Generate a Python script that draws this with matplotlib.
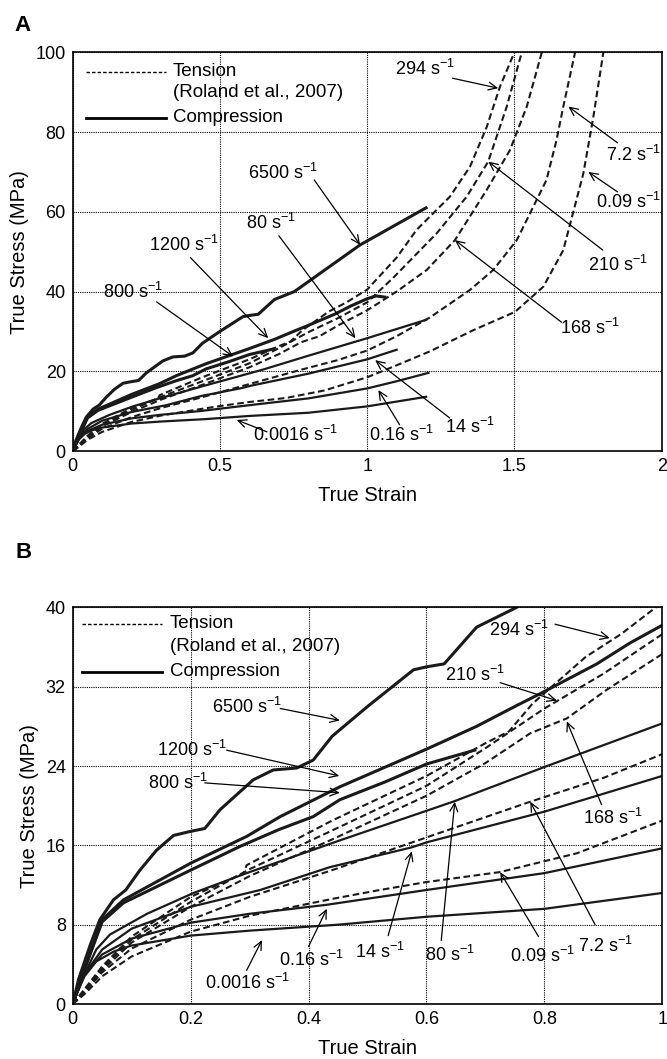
import matplotlib.pyplot as plt

plt.rcParams['font.family'] = ['Liberation Sans', 'DejaVu Sans']
plt.rcParams['mathtext.fontset'] = 'custom'
plt.rcParams['mathtext.rm'] = 'Liberation Sans'
plt.rcParams['mathtext.it'] = 'Liberation Sans:italic'

# Compression curves (true strain, true stress in MPa)
comp_0016_x = [0, 0.01, 0.02, 0.04, 0.07, 0.1, 0.2, 0.3, 0.45, 0.6, 0.8, 1.0, 1.2]
comp_0016_y = [0, 1.5, 2.8, 4.3, 5.3, 5.9, 6.9, 7.4, 8.0, 8.8, 9.6, 11.2, 13.6]
comp_016_x = [0, 0.02, 0.05, 0.1, 0.2, 0.3, 0.43, 0.6, 0.8, 1.0, 1.1, 1.208]
comp_016_y = [0, 3.0, 5.0, 6.6, 8.2, 9.1, 10.0, 11.5, 13.2, 15.7, 17.5, 19.6]
comp_14_x = [0, 0.02, 0.05, 0.1, 0.2, 0.318, 0.436, 0.575, 0.6, 0.8, 1.0, 1.1]
comp_14_y = [0, 3.0, 5.5, 7.6, 9.8, 11.5, 13.8, 15.8, 16.3, 19.4, 23.0, 25.4]
comp_80_x = [0, 0.02, 0.04, 0.063, 0.126, 0.205, 0.295, 0.453, 0.645, 0.8, 1.0, 1.2]
comp_80_y = [0, 3.0, 5.5, 7.0, 9.1, 11.2, 13.2, 16.5, 20.4, 23.9, 28.3, 32.9]
comp_800_x = [0, 0.02, 0.05, 0.086, 0.2, 0.284, 0.35, 0.408, 0.453, 0.53, 0.6, 0.682]
comp_800_y = [0, 3.5, 8.3, 10.2, 13.5, 15.9, 17.6, 18.9, 20.6, 22.4, 24.2, 25.6]
comp_1200_x = [0, 0.02, 0.05, 0.086, 0.2, 0.295, 0.352, 0.453, 0.6, 0.685, 0.753, 0.793,
               0.889, 0.945, 1.0, 1.03, 1.06]
comp_1200_y = [0, 3.5, 8.5, 10.5, 14.2, 16.9, 18.9, 21.9, 25.7, 28.0, 30.1, 31.3,
               34.3, 36.4, 38.2, 38.9, 38.6]
comp_6500_x = [0, 0.01, 0.03, 0.046, 0.069, 0.09, 0.114, 0.142, 0.171, 0.199, 0.224, 0.25,
               0.306, 0.34, 0.38, 0.408, 0.44, 0.5, 0.578, 0.6, 0.63, 0.685, 0.753, 0.976, 1.2]
comp_6500_y = [0, 2.5, 6.0, 8.5, 10.5, 11.5, 13.5, 15.5, 17.0, 17.4, 17.7, 19.6,
               22.6, 23.6, 23.8, 24.6, 27.0, 30.0, 33.7, 34.0, 34.3, 38.0, 40.0, 51.7, 61.0]

# Tension curves (Roland et al., 2007)
tens_009_x = [0, 0.02, 0.05, 0.1, 0.2, 0.3, 0.44, 0.521, 0.6, 0.724, 0.855, 1.0, 1.1,
              1.213, 1.36, 1.502, 1.598, 1.666, 1.734, 1.768, 1.802]
tens_009_y = [0, 1.0, 2.8, 4.8, 7.3, 8.9, 10.6, 11.5, 12.3, 13.3, 15.2, 18.5, 21.5,
              25.0, 30.3, 34.9, 41.2, 50.4, 69.6, 83.8, 100]
tens_72_x = [0, 0.02, 0.05, 0.1, 0.2, 0.3, 0.44, 0.6, 0.776, 0.9, 1.0, 1.1, 1.213,
             1.349, 1.428, 1.508, 1.609, 1.643, 1.666, 1.706]
tens_72_y = [0, 1.2, 3.2, 5.6, 8.5, 10.8, 13.5, 16.8, 20.4, 22.8, 25.2, 28.8, 33.5,
             40.4, 45.4, 52.9, 68.0, 78.0, 86.4, 100]
tens_168_x = [0, 0.02, 0.05, 0.1, 0.2, 0.3, 0.44, 0.6, 0.7, 0.776, 0.838, 0.906, 1.0,
              1.1, 1.202, 1.298, 1.406, 1.485, 1.542, 1.593]
tens_168_y = [0, 1.3, 3.4, 6.2, 9.8, 12.9, 16.6, 21.0, 24.3, 27.3, 28.8, 31.7, 35.3,
              40.0, 45.4, 52.9, 65.5, 75.5, 86.4, 100]
tens_210_x = [0, 0.02, 0.05, 0.1, 0.2, 0.3, 0.44, 0.6, 0.7, 0.8, 0.9, 1.0, 1.089,
              1.236, 1.338, 1.411, 1.474, 1.525]
tens_210_y = [0, 1.4, 3.6, 6.5, 10.3, 13.6, 17.5, 22.0, 25.8, 29.8, 33.3, 37.3, 43.5,
              54.6, 63.8, 72.6, 86.4, 100]
tens_294_x = [0, 0.02, 0.05, 0.1, 0.2, 0.29, 0.295, 0.44, 0.6, 0.7, 0.74, 0.78, 0.87,
              0.93, 1.0, 1.1, 1.168, 1.281, 1.349, 1.406, 1.451, 1.5]
tens_294_y = [0, 1.5, 3.8, 6.8, 10.8, 13.2, 14.0, 18.5, 23.0, 26.3, 27.5, 30.3, 35.0,
              37.3, 40.5, 48.5, 55.5, 63.8, 71.3, 81.3, 91.4, 100]

comp_curves = [(comp_0016_x, comp_0016_y, 1.6), (comp_016_x, comp_016_y, 1.6),
               (comp_14_x, comp_14_y, 1.6), (comp_80_x, comp_80_y, 1.6),
               (comp_800_x, comp_800_y, 2.2), (comp_1200_x, comp_1200_y, 2.2),
               (comp_6500_x, comp_6500_y, 2.2)]
tens_curves = [(tens_009_x, tens_009_y), (tens_72_x, tens_72_y), (tens_168_x, tens_168_y),
               (tens_210_x, tens_210_y), (tens_294_x, tens_294_y)]

S = r' s$^{-1}$'

# panel A labels: text, text centre, arrow start, arrow tip
labels_a = ['294', '6500', '80', '1200', '800', '0.0016', '0.16', '14', '168', '210', '7.2', '0.09']
text_a = [(1.197, 95.8), (0.715, 69.7), (0.674, 57.2), (0.379, 51.7), (0.205, 40.0),
          (0.755, 4.0), (1.116, 4.0), (1.35, 6.0), (1.757, 30.8), (1.853, 46.6),
          (1.903, 74.2), (1.886, 62.5)]
start_a = [(1.29, 93.5), (0.82, 68.0), (0.70, 54.0), (0.40, 48.5), (0.285, 37.4),
           (0.66, 4.8), (1.11, 6.6), (1.28, 8.3), (1.66, 32.3), (1.80, 50.4),
           (1.85, 77.3), (1.85, 65.0)]
tip_a = [(1.445, 91.0), (0.976, 51.7), (0.96, 28.3), (0.664, 28.3), (0.545, 23.7),
         (0.557, 7.8), (1.038, 15.3), (1.027, 22.8), (1.298, 52.9), (1.411, 72.6),
         (1.683, 86.4), (1.751, 70.0)]

# panel B labels
labels_b = ['294', '210', '6500', '1200', '800', '0.0016', '0.16', '14', '80', '0.09', '7.2', '168']
text_b = [(0.757, 37.7), (0.682, 33.2), (0.296, 30.0), (0.203, 25.6), (0.179, 22.3),
          (0.296, 2.1), (0.405, 4.4), (0.521, 5.3), (0.64, 4.9), (0.796, 4.8),
          (0.904, 5.9), (0.916, 18.8)]
start_b = [(0.818, 38.3), (0.725, 32.4), (0.352, 29.8), (0.261, 25.6), (0.224, 22.3),
           (0.295, 3.4), (0.40, 5.8), (0.535, 6.9), (0.625, 6.4), (0.79, 6.8),
           (0.886, 8.0), (0.897, 20.1)]
tip_b = [(0.911, 36.9), (0.821, 30.6), (0.453, 28.6), (0.452, 23.0), (0.453, 21.3),
         (0.321, 6.45), (0.431, 9.6), (0.575, 15.4), (0.648, 20.4), (0.725, 13.3),
         (0.776, 20.4), (0.838, 28.5)]

FS_TICK = 13
FS_ANN = 13
FS_AXLAB = 14.5
FS_LEG = 13.5


def draw_panel(ax, xlim, ylim, xticks, xticklabels, yticks, labels, text_pos, starts, tips, leg):
    for x, y, lw in comp_curves:
        ax.plot(x, y, color='#1a1a1a', lw=lw, solid_joinstyle='round')
    for x, y in tens_curves:
        ax.plot(x, y, color='#1a1a1a', lw=1.5, dashes=(3.2, 1.7))
    ax.set_xlim(xlim)
    ax.set_ylim(ylim)
    ax.set_xticks(xticks)
    ax.set_xticklabels(xticklabels)
    ax.set_yticks(yticks)
    ax.tick_params(length=0, labelsize=FS_TICK, pad=5)
    ax.grid(True, color='black', linestyle=(0, (1, 1)), lw=0.8)
    for sp in ax.spines.values():
        sp.set_linewidth(1.2)
    ax.set_xlabel('True Strain', fontsize=FS_AXLAB, labelpad=8)
    ax.set_ylabel('True Stress (MPa)', fontsize=FS_AXLAB, labelpad=5)
    for lab, tp, st, tip in zip(labels, text_pos, starts, tips):
        ax.annotate('', xy=tip, xytext=st,
                    arrowprops=dict(arrowstyle='->,head_length=0.6,head_width=0.28',
                                    lw=0.9, color='black', shrinkA=0, shrinkB=0))
        ax.text(tp[0], tp[1], lab + S, ha='center', va='center', fontsize=FS_ANN)
    # hand-made legend
    x0, x1, xt, y1, y2, y3 = leg
    ax.plot([x0, x1], [y1, y1], transform=ax.transAxes, color='black', lw=1.0, dashes=(2.5, 1.5))
    ax.plot([x0, x1], [y3, y3], transform=ax.transAxes, color='black', lw=2.0)
    ax.text(xt, y1, 'Tension', transform=ax.transAxes, va='center', fontsize=FS_LEG)
    ax.text(xt, y2, '(Roland et al., 2007)', transform=ax.transAxes, va='center', fontsize=FS_LEG)
    ax.text(xt, y3, 'Compression', transform=ax.transAxes, va='center', fontsize=FS_LEG)


fig = plt.figure(figsize=(6.67, 10.59), dpi=100)
ax_a = fig.add_axes([0.109, 0.5741, 0.883, 0.3765])
ax_b = fig.add_axes([0.109, 0.0519, 0.884, 0.3746])

draw_panel(ax_a, (0, 2), (0, 100), [0, 0.5, 1, 1.5, 2], ['0', '0.5', '1', '1.5', '2'],
           [0, 20, 40, 60, 80, 100], labels_a, text_a, start_a, tip_a,
           (0.0226, 0.158, 0.170, 0.951, 0.898, 0.836))
draw_panel(ax_b, (0, 1), (0, 40), [0, 0.2, 0.4, 0.6, 0.8, 1], ['0', '0.2', '0.4', '0.6', '0.8', '1'],
           [0, 8, 16, 24, 32, 40], labels_b, text_b, start_b, tip_b,
           (0.0153, 0.151, 0.165, 0.958, 0.902, 0.838))

fig.text(0.033, 0.976, 'A', fontsize=16, fontweight='bold', ha='center', va='center')
fig.text(0.036, 0.478, 'B', fontsize=16, fontweight='bold', ha='center', va='center')

fig.savefig('out.png', dpi=100)
